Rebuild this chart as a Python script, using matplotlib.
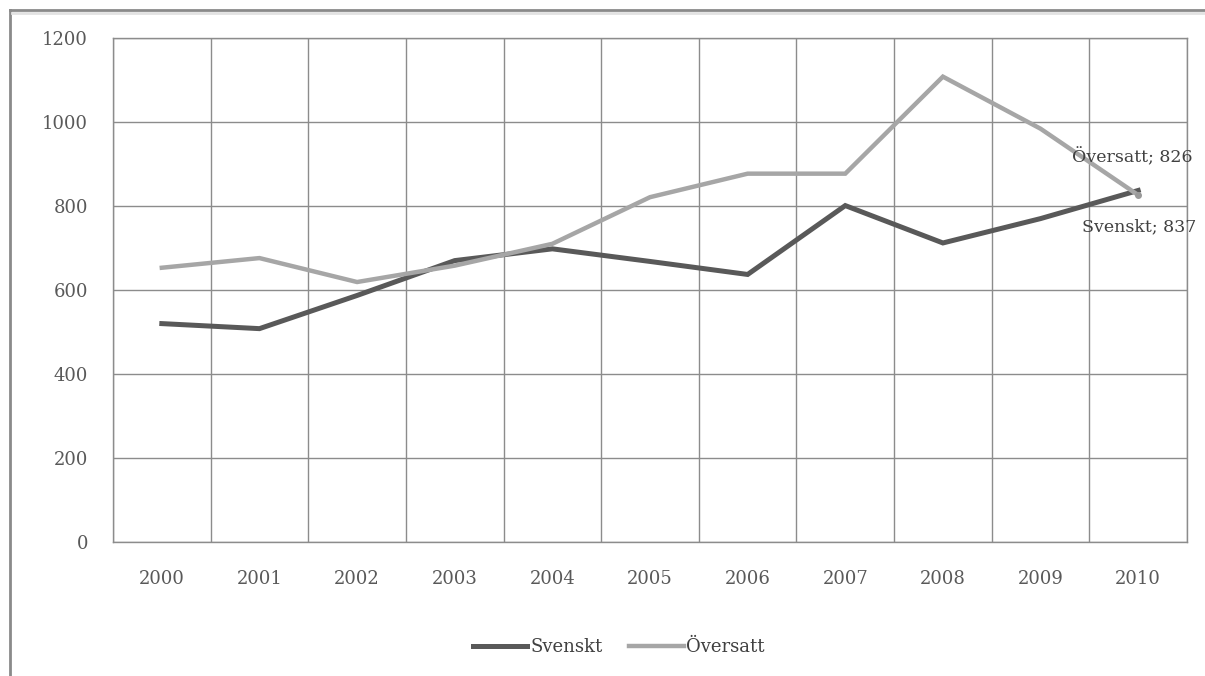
import matplotlib.pyplot as plt
from matplotlib.lines import Line2D

years = ['2000', '2001', '2002', '2003', '2004', '2005',
         '2006', '2007', '2008', '2009', '2010']
svenskt = [520, 508, 587, 670, 698, 668, 637, 801, 712, 770, 837]
oversatt = [653, 676, 619, 658, 710, 821, 877, 877, 1108, 984, 826]
yticks = [0, 200, 400, 600, 800, 1000, 1200]

dark = '#595959'
light = '#a6a6a6'
grid = '#8c8c8c'
font = 'DejaVu Serif'

fig = plt.figure(figsize=(12.05, 6.76), dpi=100)
W, H = 1205, 676

# outer chart frame (clipped at right and bottom)
fig.add_artist(Line2D([10 / W, 10 / W], [0, 1 - 10 / H], color='#8a8a8a', lw=2))
fig.add_artist(Line2D([10 / W, 1], [1 - 10 / H, 1 - 10 / H], color='#8a8a8a', lw=2))
fig.add_artist(Line2D([12 / W, 1], [1 - 13 / H, 1 - 13 / H], color='#e2e2e2', lw=2))

ax = fig.add_axes([113 / W, (H - 542) / H, (1187 - 113) / W, (542 - 38) / H])

x = list(range(len(years)))
ax.plot(x, svenskt, color=dark, lw=3.6, label='Svenskt', solid_joinstyle='miter', zorder=3)
ax.plot(x, oversatt, color=light, lw=3.2, label='Översatt', solid_joinstyle='miter', zorder=3)
ax.plot([10], [oversatt[-1]], marker='o', ms=4, color='#999999', zorder=4)

ax.set_xlim(-0.5, len(years) - 0.5)
ax.set_ylim(0, 1200)
ax.set_yticks(yticks)
ax.set_xticks(x)
ax.set_xticklabels(years)
ax.set_xticks([i - 0.5 for i in range(len(years) + 1)], minor=True)

ax.grid(True, which='major', axis='y', color=grid, lw=1)
ax.grid(True, which='minor', axis='x', color=grid, lw=1)
ax.tick_params(which='both', length=0)
ax.tick_params(axis='x', pad=20)
ax.tick_params(axis='y', pad=18)
for s in ax.spines.values():
    s.set_color(grid)
    s.set_linewidth(1)

for lab in ax.get_xticklabels() + ax.get_yticklabels():
    lab.set_fontfamily(font)
    lab.set_fontsize(13)
    lab.set_color(dark)

ax.annotate('Översatt; ' + str(oversatt[-1]), xy=(10, oversatt[-1]),
            xytext=(-66, 38), textcoords='offset pixels', ha='left', va='center',
            fontsize=12.5, family=font, color='#404040', annotation_clip=False)
ax.annotate('Svenskt; ' + str(svenskt[-1]), xy=(10, svenskt[-1]),
            xytext=(-56, -36), textcoords='offset pixels', ha='left', va='center',
            fontsize=12.5, family=font, color='#404040', annotation_clip=False)

leg = fig.legend(loc='center', bbox_to_anchor=(619 / W, 1 - 647 / H), ncol=2, frameon=False,
                 prop={'family': font, 'size': 13}, handlelength=3.0,
                 handletextpad=0.15, columnspacing=1.5)
for t in leg.get_texts():
    t.set_color('#404040')

fig.savefig('out.png', dpi=100)
